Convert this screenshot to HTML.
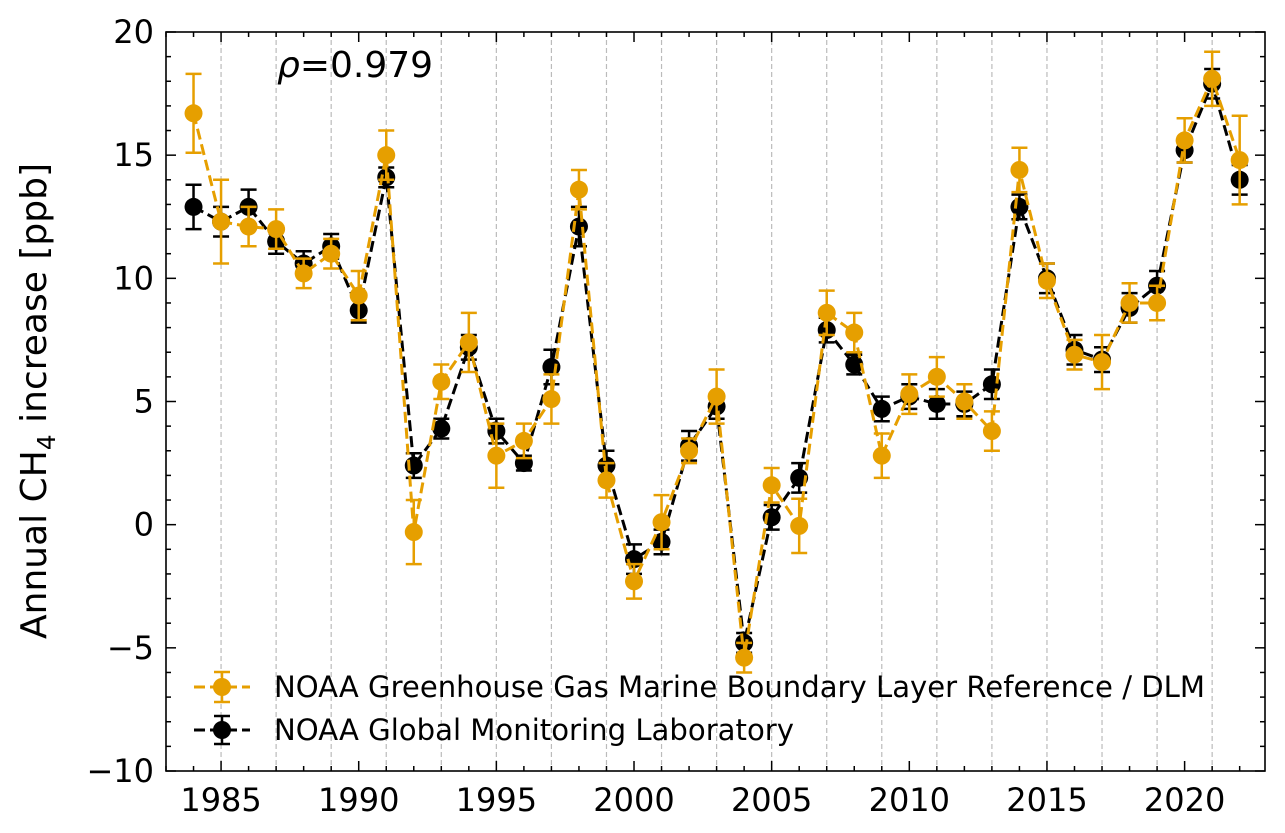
<!DOCTYPE html>
<html><head><meta charset="utf-8">
<style>
html,body{margin:0;padding:0;background:#fff;}
svg{display:block;font-family:"DejaVu Sans","Liberation Sans",sans-serif;}
</style></head>
<body>
<svg id="chart" width="1285" height="833" viewBox="0 0 1285 833" xmlns="http://www.w3.org/2000/svg">
<g id="grid"></g>
<g id="series"></g>
<rect x="166" y="32" width="1099" height="739" fill="none" stroke="#000" stroke-width="1.6"/>
<g id="axes"></g>
<text transform="translate(46,401) rotate(-90)" text-anchor="middle" font-size="36">Annual CH<tspan font-size="25" dy="9">4</tspan><tspan dy="-9"> increase [ppb]</tspan></text>
<text x="277" y="77" font-size="36"><tspan font-style="italic">ρ</tspan>=0.979</text>
<g>
 <g>
  <line x1="194" y1="687" x2="250" y2="687" stroke="#E69F00" stroke-width="3" stroke-dasharray="11,5"/>
  <line x1="222" y1="672" x2="222" y2="702" stroke="#E69F00" stroke-width="2.5"/>
  <line x1="214" y1="672" x2="230" y2="672" stroke="#E69F00" stroke-width="2.5"/>
  <line x1="214" y1="702" x2="230" y2="702" stroke="#E69F00" stroke-width="2.5"/>
  <circle cx="222" cy="687" r="9" fill="#E69F00"/>
  <text x="274" y="697" font-size="29" textLength="931" lengthAdjust="spacingAndGlyphs">NOAA Greenhouse Gas Marine Boundary Layer Reference / DLM</text>
 </g>
 <g>
  <line x1="194" y1="730" x2="250" y2="730" stroke="#000" stroke-width="3" stroke-dasharray="11,5"/>
  <line x1="222" y1="716" x2="222" y2="744" stroke="#000" stroke-width="2.5"/>
  <line x1="214" y1="716" x2="230" y2="716" stroke="#000" stroke-width="2.5"/>
  <line x1="214" y1="744" x2="230" y2="744" stroke="#000" stroke-width="2.5"/>
  <circle cx="222" cy="730" r="9" fill="#000"/>
  <text x="274" y="740" font-size="29" textLength="520" lengthAdjust="spacingAndGlyphs">NOAA Global Monitoring Laboratory</text>
 </g>
</g>
</svg>
<script>
const years = [1984,1985,1986,1987,1988,1989,1990,1991,1992,1993,1994,1995,1996,1997,1998,1999,2000,2001,2002,2003,2004,2005,2006,2007,2008,2009,2010,2011,2012,2013,2014,2015,2016,2017,2018,2019,2020,2021,2022];
const mblValues = [16.7,12.3,12.1,12.0,10.2,11.0,9.3,15.0,-0.3,5.8,7.4,2.8,3.4,5.1,13.6,1.8,-2.3,0.1,3.0,5.2,-5.4,1.6,-0.05,8.6,7.8,2.8,5.3,6.0,5.0,3.8,14.4,9.9,6.9,6.6,9.0,9.0,15.6,18.1,14.8];
const mblErrors = [1.6,1.7,0.8,0.8,0.6,0.6,1.0,1.0,1.3,0.7,1.2,1.3,0.7,1.0,0.8,0.7,0.7,1.1,0.5,1.1,0.6,0.7,1.1,0.9,0.8,0.9,0.8,0.8,0.7,0.8,0.9,0.7,0.6,1.1,0.8,0.7,0.9,1.1,1.8];
const gmlValues = [12.9,12.3,12.9,11.5,10.6,11.3,8.7,14.1,2.4,3.9,7.2,3.8,2.5,6.4,12.1,2.4,-1.4,-0.7,3.2,4.8,-4.8,0.3,1.9,7.9,6.5,4.7,5.2,4.9,4.9,5.7,12.9,10.0,7.1,6.7,8.8,9.7,15.2,17.9,14.0];
const gmlErrors = [0.9,0.6,0.7,0.5,0.5,0.5,0.5,0.4,0.5,0.4,0.5,0.5,0.3,0.7,0.8,0.6,0.6,0.5,0.6,0.5,0.4,0.5,0.6,0.5,0.4,0.5,0.5,0.6,0.5,0.6,0.5,0.6,0.6,0.5,0.6,0.6,0.5,0.6,0.6];
const xTicks = [1985,1990,1995,2000,2005,2010,2015,2020];
const yTicks = [-10,-5,0,5,10,15,20];
const yTickLabels = ["\u221210","\u22125","0","5","10","15","20"];

const X0=166,X1=1265,Y0=32,Y1=771,XMIN=1983.0,XMAX=2022.92,YMIN=-10,YMAX=20;
const sx=v=>X0+(v-XMIN)/(XMAX-XMIN)*(X1-X0);
const sy=v=>Y1-(v-YMIN)/(YMAX-YMIN)*(Y1-Y0);
const NS="http://www.w3.org/2000/svg";
function mk(tag,attrs,parent){const e=document.createElementNS(NS,tag);for(const k in attrs)e.setAttribute(k,attrs[k]);parent.appendChild(e);return e;}
const grid=document.getElementById('grid'),axes=document.getElementById('axes'),series=document.getElementById('series');
for(let y=1985;y<=2021;y+=2){
  const l=mk('line',{x1:sx(y),x2:sx(y),y1:Y0,y2:Y1,stroke:'#bbb','stroke-width':1.2,'stroke-dasharray':'5,3'},grid);
  
  
}
for(let y=1983;y<=2022;y++){
  const major=xTicks.includes(y),len=major?10:5;
  mk('line',{x1:sx(y),x2:sx(y),y1:Y1,y2:Y1-len,stroke:'#000','stroke-width':1.5},axes);
  mk('line',{x1:sx(y),x2:sx(y),y1:Y0,y2:Y0+len,stroke:'#000','stroke-width':1.5},axes);
}
xTicks.forEach(t=>{const e=mk('text',{x:sx(t),y:Y1+40,'text-anchor':'middle','font-size':32},axes);e.textContent=t;
  
  });
for(let v=-10;v<=20;v++){
  const major=v%5===0,len=major?10:5;
  mk('line',{x1:X0,x2:X0+len,y1:sy(v),y2:sy(v),stroke:'#000','stroke-width':1.5},axes);
  mk('line',{x1:X1,x2:X1-len,y1:sy(v),y2:sy(v),stroke:'#000','stroke-width':1.5},axes);
}
yTicks.forEach((t,i)=>{const e=mk('text',{x:X0-12,y:sy(t)+11,'text-anchor':'end','font-size':32},axes);e.textContent=yTickLabels[i];
  
  });
function drawSeries(vals,errs,color,name){
  const g=mk('g',{},series);
  
  
  mk('polyline',{points:years.map((y,i)=>sx(y)+','+sy(vals[i])).join(' '),fill:'none',stroke:color,'stroke-width':3,'stroke-dasharray':'11,5'},g);
  years.forEach((y,i)=>{
    const x=sx(y),a=sy(vals[i]+errs[i]),b=sy(vals[i]-errs[i]);
    mk('line',{x1:x,x2:x,y1:a,y2:b,stroke:color,'stroke-width':2.5},g);
    mk('line',{x1:x-8,x2:x+8,y1:a,y2:a,stroke:color,'stroke-width':2.5},g);
    mk('line',{x1:x-8,x2:x+8,y1:b,y2:b,stroke:color,'stroke-width':2.5},g);
    const c=mk('circle',{cx:x,cy:sy(vals[i]),r:9,fill:color},g);
    
    
  });
}
drawSeries(gmlValues,gmlErrors,'#000','series-noaa-gml');
drawSeries(mblValues,mblErrors,'#E69F00','series-noaa-mbl');
</script>
</body></html>
